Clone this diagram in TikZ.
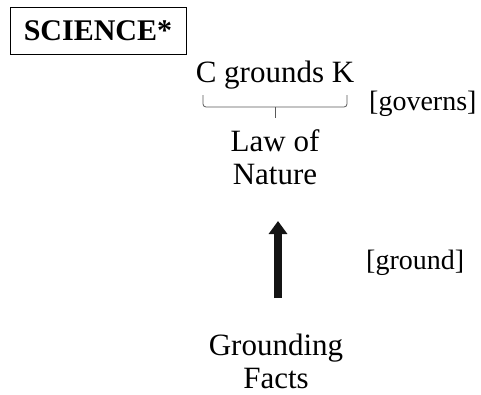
\documentclass[tikz,border=0pt]{standalone}
\usepackage{fontspec}
\setmainfont{Liberation Serif}
\usetikzlibrary{arrows.meta}
\begin{document}
\begin{tikzpicture}[x=1pt,y=-1pt,
  txt/.style={font=\fontsize{31}{33}\selectfont, align=center, inner sep=0pt},
  lbl/.style={font=\fontsize{28}{31}\selectfont, inner sep=0pt, anchor=west},
  titlebox/.style={draw, line width=0.8pt, font=\fontsize{30}{32}\selectfont\bfseries, minimum width=176pt, minimum height=47pt, inner sep=0pt},
  bracestyle/.style={line width=0.8pt, draw=black!65, rounded corners=3pt},
  uparrow/.style={line width=8pt, draw=black!92, -{Triangle[width=18pt,length=13pt]}}
]
\useasboundingbox (0,0) rectangle (481,394);
\node[titlebox] (sci) at (98,30.5) {SCIENCE*};
\node[txt] (cgk) at (275,75) {C grounds K};
\coordinate (bl) at (203,95);
\coordinate (br) at (347,95);
\coordinate (bt) at (275,118);
\draw[bracestyle] (bl) -- (203,107) -- (275,107) -- (347,107) -- (br);
\draw[line width=0.8pt, draw=black!65] (275,107) -- (bt);
\node[lbl] (gov) at (369,104) {[governs]};
\node[txt] (law) at (275,157) {Law of\\Nature};
\node[lbl] (gnd) at (366,263) {[ground]};
\node[txt] (gf) at (276,361) {Grounding\\Facts};
\coordinate (a1) at (278,298);
\coordinate (a2) at (278,221);
\draw[uparrow] (a1) -- (a2);
\end{tikzpicture}
\end{document}
